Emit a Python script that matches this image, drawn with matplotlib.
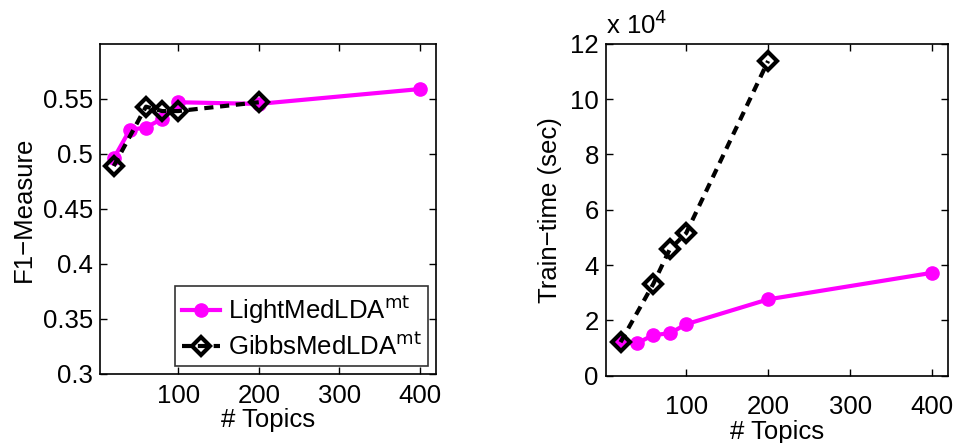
import matplotlib
matplotlib.use("Agg")
import matplotlib.pyplot as plt
from matplotlib.ticker import FormatStrFormatter

plt.rcParams['font.family'] = ['Liberation Sans', 'DejaVu Sans']

topics_light = [20, 40, 60, 80, 100, 200, 400]
topics_gibbs = [20, 60, 80, 100, 200]
f1_light = [0.496, 0.522, 0.524, 0.532, 0.547, 0.5455, 0.559]
f1_gibbs = [0.489, 0.543, 0.539, 0.539, 0.547]
time_light = [12000, 11700, 14700, 15300, 18600, 27600, 37200]
time_gibbs = [12100, 33200, 45700, 51500, 113800]
light_label = 'LightMedLDA$^{\\rm mt}$'
gibbs_label = 'GibbsMedLDA$^{\\rm mt}$'

FS = 18.5
MAG = '#ff00ff'

fig = plt.figure(figsize=(9.6, 4.43), dpi=100)
ax1 = fig.add_axes([0.1042, 0.1558, 0.35, 0.745])
ax2 = fig.add_axes([0.631, 0.152, 0.357, 0.749])

def style(ax, xpad):
    ax.tick_params(direction='in', top=True, right=True, labelsize=FS, length=5, width=1)
    ax.tick_params(axis='x', pad=xpad)
    ax.tick_params(axis='y', pad=5)
    for s in ax.spines.values():
        s.set_linewidth(1.2)

gibbs_style = dict(color='k', lw=3, ms=9, mec='k', mfc='none', mew=3, dashes=(2.2, 1.6))
light_style = dict(color=MAG, lw=3, ms=9.5, mec=MAG, mfc=MAG)

ax1.plot(topics_light, f1_light, '-o', label=light_label, zorder=2, **light_style)
ax1.plot(topics_gibbs, f1_gibbs, '--D', label=gibbs_label, zorder=3, **gibbs_style)
ax1.set_xlim(3, 420)
ax1.set_ylim(0.3, 0.6)
ax1.set_xticks([100, 200, 300, 400])
ax1.set_yticks([0.3, 0.35, 0.4, 0.45, 0.5, 0.55])
ax1.yaxis.set_major_formatter(FormatStrFormatter('%g'))
style(ax1, 7)
ax1.set_xlabel('# Topics', fontsize=FS, labelpad=0)
ax1.set_ylabel('F1\u2212Measure', fontsize=FS, labelpad=5)
leg = ax1.legend(loc='lower right', fontsize=FS, frameon=True, fancybox=False,
                 edgecolor='k', handlelength=1.5, handletextpad=0.3,
                 borderaxespad=0.3, labelspacing=0.25, borderpad=0.25)
leg.get_frame().set_linewidth(1.2)

ax2.plot(topics_gibbs, [v / 1e4 for v in time_gibbs], '--D', zorder=3, **gibbs_style)
ax2.plot(topics_light, [v / 1e4 for v in time_light], '-o', zorder=2, **light_style)
ax2.set_xlim(2, 420)
ax2.set_ylim(0, 12)
ax2.set_xticks([100, 200, 300, 400])
ax2.set_yticks([0, 2, 4, 6, 8, 10, 12])
style(ax2, 14)
ax2.set_xlabel('# Topics', fontsize=FS, labelpad=1)
ax2.set_ylabel('Train\u2212time (sec)', fontsize=FS, labelpad=6)
ax2.text(0.0, 1.015, 'x 10$^4$', transform=ax2.transAxes, fontsize=FS, ha='left', va='bottom')

fig.savefig('out.png', dpi=100)
